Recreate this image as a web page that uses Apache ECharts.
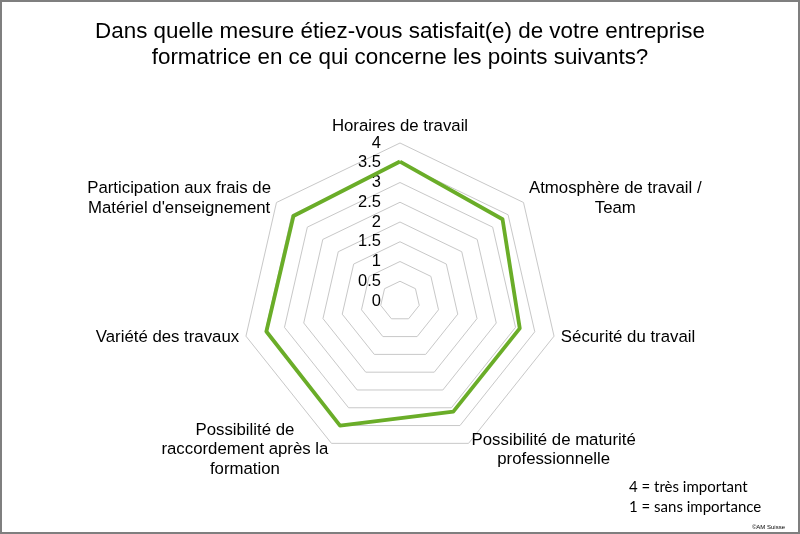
<!DOCTYPE html>
<html>
<head>
<meta charset="utf-8">
<script src="https://cdn.jsdelivr.net/npm/echarts@6/dist/echarts.min.js"></script>
<style>
html,body{margin:0;padding:0;background:#fff;}
#c{width:800px;height:534px;}
</style>
</head>
<body>
<div id="c"></div>
<script>
// Categories in clockwise order starting from the top
var categories = [
  'Horaires de travail',
  'Atmosphère de travail /\nTeam',
  'Sécurité du travail',
  'Possibilité de maturité\nprofessionnelle',
  'Possibilité de\nraccordement après la\nformation',
  'Variété des travaux',
  "Participation aux frais de\nMatériel d'enseignement"
];
var values = [3.53, 3.32, 3.11, 3.11, 3.5, 3.47, 3.45];
var tickLabels = ['0', '0.5', '1', '1.5', '2', '2.5', '3', '3.5', '4'];
var maxValue = 4;
var titleLines = ['Dans quelle mesure étiez-vous satisfait(e) de votre entreprise', 'formatrice en ce qui concerne les points suivants?'];
var noteText = '4 = très important\n1 = sans importance';
var creditText = '©AM Suisse';

// ECharts places radar indicators counter-clockwise: reorder
var order = [0];
for (var i = categories.length - 1; i >= 1; i--) order.push(i);
var indicator = order.map(function (i) { return { name: categories[i], max: maxValue, min: 0 }; });
var seriesValues = order.map(function (i) { return values[i]; });

var FONT = '"Liberation Sans", Arial, sans-serif';
function centered(lines) {
  return lines.map(function (l) { return '{c|' + l + '}'; }).join('\n');
}
var chart = echarts.init(document.getElementById('c'));
chart.setOption({
  backgroundColor: '#fff',
  animation: false,
  title: [{
    text: centered(titleLines),
    left: 'center',
    top: 14,
    textStyle: {
      fontFamily: FONT, fontSize: 22.4, fontWeight: 'normal', color: '#000', lineHeight: 26,
      rich: { c: { align: 'center', fontFamily: FONT, fontSize: 22.4, color: '#000', lineHeight: 26 } }
    }
  }, {
    text: noteText,
    left: 624,
    top: 472,
    textStyle: { fontFamily: 'Lato, "Open Sans", sans-serif', fontSize: 15, fontWeight: 'normal', color: '#000', lineHeight: 20 }
  }, {
    text: creditText,
    right: 10,
    top: 519,
    textStyle: { fontFamily: FONT, fontSize: 6, fontWeight: 'normal', color: '#000' }
  }],
  radar: {
    center: [400, 301],
    radius: 158,
    startAngle: 90,
    shape: 'polygon',
    splitNumber: 8,
    indicator: indicator,
    nameGap: 7,
    axisName: {
      color: '#000',
      fontFamily: FONT,
      fontSize: 16.5,
      formatter: function (name) { return centered(name.split('\n')); },
      rich: {
        c: { align: 'center', color: '#000', fontFamily: FONT, fontSize: 16.8, lineHeight: 19.5 }
      }
    },
    axisLine: { show: false },
    axisTick: { show: false },
    axisLabel: { show: false },
    splitArea: { show: false },
    splitLine: { lineStyle: { color: '#c8c8c8', width: 1 } }
  },
  grid: { left: 400, top: 143, height: 158, width: 1 },
  xAxis: { type: 'value', show: false },
  yAxis: {
    type: 'value',
    min: 0,
    max: maxValue,
    interval: 0.5,
    axisLine: { show: false },
    axisTick: { show: false },
    splitLine: { show: false },
    axisLabel: {
      margin: 19,
      color: '#000',
      fontFamily: FONT,
      fontSize: 16.5,
      formatter: function (v) { return tickLabels[Math.round(v / 0.5)]; }
    }
  },
  series: [{
    type: 'radar',
    symbol: 'none',
    lineStyle: { color: '#6aad28', width: 3.8 },
    itemStyle: { color: '#6aad28' },
    data: [{ value: seriesValues, name: 'Satisfaction' }]
  }],
  graphic: [{
    type: 'rect',
    shape: { x: 1, y: 1, width: 798, height: 532 },
    style: { fill: 'none', stroke: '#7f7f7f', lineWidth: 2 },
    silent: true
  }]
});
</script>
</body>
</html>
